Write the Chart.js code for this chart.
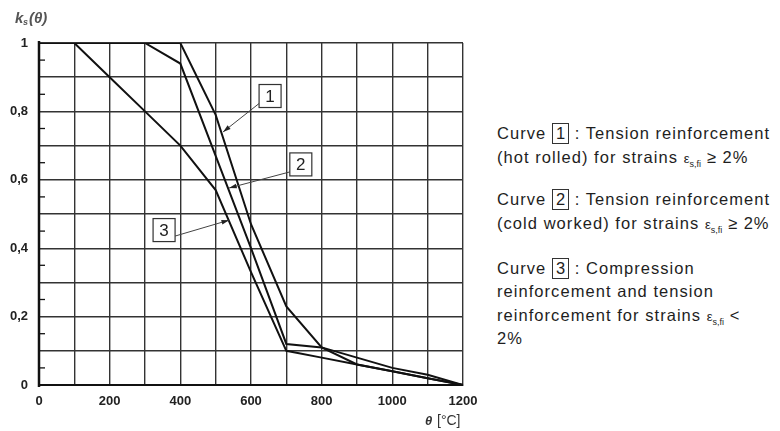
<!DOCTYPE html>
<html>
<head>
<meta charset="utf-8">
<script src="https://cdn.jsdelivr.net/npm/chart.js@4/dist/chart.umd.min.js"></script>
<style>
  body { margin: 0; background: #fff; width: 780px; height: 431px; overflow: hidden; position: relative; font-family: "Liberation Sans", Arial, sans-serif; }
  #wrap { position: absolute; left: 0; top: 0; width: 490px; height: 431px; }
  #notes { position: absolute; left: 497px; top: 121px; color: #1e1e1e; font-size: 16.5px; line-height: 24px; letter-spacing: 1.05px; white-space: nowrap; }
  #notes p { margin: 0 0 18px 0; }
  #notes p.last { line-height: 23.3px; margin-top: 22px; }
  .box { display: inline-block; border: 1px solid #333; padding: 0 3px; line-height: 19px; letter-spacing: 0; }
  .eps { font-size: 13px; letter-spacing: 0; line-height: 0; }
  .eps sub { font-size: 9px; line-height: 0; }
</style>
</head>
<body>
<div id="wrap"><canvas id="chart" width="490" height="431"></canvas></div>
<div id="notes">
  <p>Curve <span class="box">1</span> : Tension reinforcement<br>(hot rolled) for strains <span class="eps">ε<sub>s,fi</sub></span> ≥ 2%</p>
  <p>Curve <span class="box">2</span> : Tension reinforcement<br>(cold worked) for strains <span class="eps">ε<sub>s,fi</sub></span> ≥ 2%</p>
  <p class="last">Curve <span class="box">3</span> : Compression<br>reinforcement and tension<br>reinforcement for strains <span class="eps">ε<sub>s,fi</sub></span> &lt;<br>2%</p>
</div>
<script>
// temperatures (°C)
const temps = [0, 100, 200, 300, 400, 500, 600, 700, 800, 900, 1000, 1100, 1200];
// ks(theta)
const curve1 = [1, 1, 1, 1, 1, 0.79, 0.47, 0.23, 0.11, 0.06, 0.04, 0.02, 0];
const curve2 = [1, 1, 1, 1, 0.94, 0.67, 0.40, 0.12, 0.11, 0.08, 0.05, 0.03, 0];
const curve3 = [1, 1, 0.9, 0.8, 0.7, 0.57, 0.33, 0.10, 0.08, 0.06, 0.04, 0.02, 0];

const yLabels = [0, 0.2, 0.4, 0.6, 0.8, 1];
const xLabels = [0, 200, 400, 600, 800, 1000, 1200];

// curve number callouts: box centre and arrow tip, in data units
const callouts = [
    { text: '1', box: [654, 0.845], tip: [521, 0.74] },
    { text: '2', box: [741, 0.645], tip: [538, 0.576] },
    { text: '3', box: [354, 0.453], tip: [538, 0.482] }
];

function toXY(arr) {
    return temps.map((t, i) => ({ x: t, y: arr[i] }));
}

const lineStyle = {
    borderColor: '#111',
    borderWidth: 2,
    pointRadius: 0,
    tension: 0,
    fill: false
};

const extras = {
    id: 'extras',
    afterDraw(chart) {
        const ctx = chart.ctx;
        const xs = chart.scales.x, ys = chart.scales.y;
        const area = chart.chartArea;
        ctx.save();

        // heavier left axis
        ctx.strokeStyle = '#111';
        ctx.lineWidth = 2.5;
        ctx.beginPath();
        ctx.moveTo(area.left, area.top - 2);
        ctx.lineTo(area.left, area.bottom + 2);
        ctx.stroke();

        // minor ticks at every 0.05 on the left axis
        ctx.lineWidth = 1.3;
        for (let v = 0.05; v < 1; v += 0.1) {
            const py = ys.getPixelForValue(v);
            ctx.beginPath();
            ctx.moveTo(area.left, py);
            ctx.lineTo(area.left + 6, py);
            ctx.stroke();
        }

        // callouts
        ctx.font = '17px "Liberation Sans", Arial';
        ctx.textAlign = 'center';
        ctx.textBaseline = 'middle';
        callouts.forEach(c => {
            const bx = xs.getPixelForValue(c.box[0]);
            const by = ys.getPixelForValue(c.box[1]);
            const tx = xs.getPixelForValue(c.tip[0]);
            const ty = ys.getPixelForValue(c.tip[1]);
            const w = 22, h = 23;
            // arrow starts at the box edge nearest the tip
            let sx = tx < bx ? bx - w / 2 : bx + w / 2;
            let sy = ty > by ? by + h / 2 - 4 : by + h / 2 - 5;
            if (c.text === '3') { sx = bx + w / 2; sy = by + 6; }
            ctx.strokeStyle = '#444';
            ctx.lineWidth = 1;
            ctx.beginPath();
            ctx.moveTo(sx, sy);
            ctx.lineTo(tx, ty);
            ctx.stroke();
            const ang = Math.atan2(ty - sy, tx - sx);
            ctx.fillStyle = '#222';
            ctx.beginPath();
            ctx.moveTo(tx, ty);
            ctx.lineTo(tx - 8 * Math.cos(ang - 0.3), ty - 8 * Math.sin(ang - 0.3));
            ctx.lineTo(tx - 8 * Math.cos(ang + 0.3), ty - 8 * Math.sin(ang + 0.3));
            ctx.closePath();
            ctx.fill();
            ctx.fillStyle = '#fff';
            ctx.fillRect(bx - w / 2, by - h / 2, w, h);
            ctx.strokeStyle = '#333';
            ctx.lineWidth = 1.2;
            ctx.strokeRect(bx - w / 2, by - h / 2, w, h);
            ctx.fillStyle = '#222';
            ctx.fillText(c.text, bx, by + 1);
        });

        // axis titles
        ctx.fillStyle = '#555';
        ctx.textAlign = 'left';
        ctx.textBaseline = 'alphabetic';
        ctx.font = 'italic bold 15px "Liberation Sans", Arial';
        ctx.fillText('k', 15, 23);
        ctx.font = 'italic bold 9px "Liberation Sans", Arial';
        ctx.fillText('s', 23, 25);
        ctx.font = 'italic bold 15px "Liberation Sans", Arial';
        ctx.fillText('(θ)', 29, 23);
        ctx.fillStyle = '#333';
        ctx.font = 'italic bold 13px "Liberation Sans", Arial';
        ctx.fillText('θ', 425, 425);
        ctx.font = '14px "Liberation Sans", Arial';
        ctx.fillText('[°C]', 437, 425);
        ctx.restore();
    }
};

new Chart(document.getElementById('chart'), {
    type: 'line',
    data: {
        datasets: [
            Object.assign({ label: 'Curve 1', data: toXY(curve1) }, lineStyle),
            Object.assign({ label: 'Curve 2', data: toXY(curve2) }, lineStyle),
            Object.assign({ label: 'Curve 3', data: toXY(curve3) }, lineStyle)
        ]
    },
    options: {
        responsive: false,
        animation: false,
        layout: { padding: { top: 43, right: 27, left: 0, bottom: 0 } },
        plugins: {
            legend: { display: false },
            tooltip: { enabled: false }
        },
        scales: {
            x: {
                type: 'linear',
                min: 0,
                max: 1200,
                afterFit(scale) { scale.height = 46; },
                grid: { color: '#333', lineWidth: 1.4, drawTicks: false },
                border: { color: '#111', width: 2 },
                ticks: {
                    stepSize: 100,
                    autoSkip: false,
                    maxRotation: 0,
                    padding: 9,
                    color: '#222',
                    font: { family: '"Liberation Sans", Arial', size: 13, weight: 'bold' },
                    callback: v => xLabels.includes(v) ? String(v) : ''
                }
            },
            y: {
                min: 0,
                max: 1,
                afterFit(scale) { scale.width = 39; },
                grid: { color: '#333', lineWidth: 1.4, drawTicks: false },
                border: { color: '#111', width: 2 },
                ticks: {
                    stepSize: 0.1,
                    autoSkip: false,
                    padding: 11,
                    color: '#222',
                    font: { family: '"Liberation Sans", Arial', size: 13, weight: 'bold' },
                    callback: v => {
                        const r = Math.round(v * 10) / 10;
                        const hit = yLabels.find(l => Math.abs(l - r) < 1e-6);
                        return hit === undefined ? '' : String(hit).replace('.', ',');
                    }
                }
            }
        }
    },
    plugins: [extras]
});
</script>
</body>
</html>
